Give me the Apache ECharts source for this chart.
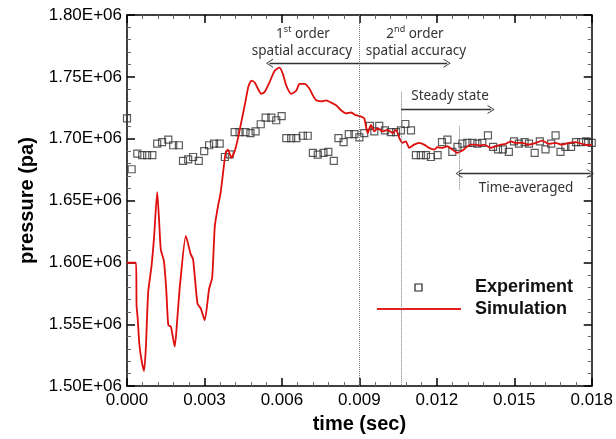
<!DOCTYPE html>
<html>
<head>
<meta charset="utf-8">
<script src="https://cdn.jsdelivr.net/npm/echarts@6/dist/echarts.min.js"></script>
<style>
html,body{margin:0;padding:0;background:#fff;}
#c{width:616px;height:439px;}
</style>
</head>
<body>
<div id="c"></div>
<script>
// ---- data (time in s, pressure in Pa) ----
const expTime = [0.00000,0.00018,0.00040,0.00059,0.00078,0.00098,0.00117,0.00136,0.00160,0.00179,0.00201,0.00217,0.00237,0.00256,0.00278,0.00299,0.00318,0.00337,0.00359,0.00379,0.00398,0.00417,0.00436,0.00459,0.00478,0.00498,0.00518,0.00537,0.00559,0.00578,0.00599,0.00617,0.00636,0.00656,0.00681,0.00700,0.00720,0.00739,0.00761,0.00780,0.00801,0.00819,0.00839,0.00859,0.00881,0.00900,0.00919,0.00941,0.00958,0.00977,0.00999,0.01022,0.01042,0.01061,0.01078,0.01100,0.01119,0.01138,0.01158,0.01177,0.01203,0.01220,0.01241,0.01260,0.01280,0.01299,0.01318,0.01338,0.01357,0.01376,0.01398,0.01418,0.01437,0.01456,0.01479,0.01499,0.01518,0.01540,0.01557,0.01579,0.01599,0.01621,0.01643,0.01660,0.01679,0.01698,0.01720,0.01739,0.01759,0.01778,0.01800];
const expPressure = [1.7164,1.6753,1.6880,1.6868,1.6868,1.6868,1.6960,1.6973,1.6992,1.6947,1.6947,1.6820,1.6833,1.6852,1.6820,1.6900,1.6947,1.6960,1.6960,1.6852,1.6873,1.7053,1.7053,1.7053,1.7045,1.7059,1.7117,1.7170,1.7170,1.7149,1.7183,1.7005,1.7005,1.7005,1.7024,1.7024,1.6886,1.6872,1.6886,1.6894,1.6820,1.7005,1.6973,1.7037,1.7037,1.7011,1.7045,1.7103,1.7059,1.7103,1.7067,1.7053,1.7053,1.7067,1.7119,1.7067,1.6868,1.6868,1.6868,1.6852,1.6868,1.6973,1.6992,1.6894,1.6934,1.6960,1.6966,1.6966,1.6960,1.6966,1.7027,1.6934,1.6913,1.6913,1.6894,1.6979,1.6960,1.6973,1.6960,1.6886,1.6979,1.6913,1.6960,1.7027,1.6894,1.6934,1.6934,1.6973,1.6973,1.6979,1.6966].map(v => v * 1e6);

const simTime = [0,0.00035,0.00037,0.00041,0.00048,0.00057,0.00066,0.00073,0.00082,0.00095,0.00105,0.00117,0.00124,0.00131,0.00143,0.00152,0.00160,0.00170,0.00185,0.00195,0.00205,0.00228,0.00246,0.00256,0.00273,0.00286,0.00301,0.00318,0.00330,0.00340,0.00353,0.00362,0.00370,0.00382,0.00391,0.00404,0.00417,0.00430,0.00443,0.00456,0.00470,0.00482,0.00494,0.00508,0.00520,0.00533,0.00552,0.00572,0.00591,0.00604,0.00617,0.00636,0.00656,0.00668,0.00688,0.00707,0.00720,0.00733,0.00752,0.00771,0.00791,0.00810,0.00829,0.00849,0.00868,0.00887,0.00907,0.00919,0.00932,0.00945,0.00958,0.00971,0.00990,0.01009,0.01029,0.01042,0.01055,0.01067,0.01080,0.01093,0.01112,0.01132,0.01151,0.01170,0.01190,0.01202,0.01222,0.01241,0.01260,0.01280,0.01299,0.01312,0.01331,0.01351,0.01366,0.01383,0.01409,0.01428,0.01447,0.01467,0.01486,0.01505,0.01531,0.01557,0.01583,0.01608,0.01634,0.01660,0.01685,0.01711,0.01737,0.01763,0.01788,0.01800];
const simPressure = [1.5997,1.5997,1.5650,1.5560,1.5334,1.5201,1.5122,1.5308,1.5758,1.5971,1.6210,1.6568,1.6350,1.6104,1.6010,1.5780,1.5493,1.5480,1.5320,1.5550,1.5812,1.6215,1.6071,1.6024,1.5666,1.5626,1.5533,1.5785,1.5878,1.6289,1.6462,1.6554,1.6687,1.6886,1.6912,1.6846,1.6899,1.7005,1.7138,1.7270,1.7420,1.7469,1.7456,1.7400,1.7363,1.7377,1.7456,1.7549,1.7575,1.7522,1.7429,1.7363,1.7390,1.7443,1.7443,1.7403,1.7350,1.7310,1.7302,1.7310,1.7292,1.7270,1.7230,1.7204,1.7212,1.7190,1.7178,1.7164,1.7045,1.7111,1.7059,1.7085,1.7059,1.7072,1.7045,1.7072,1.7005,1.6966,1.6979,1.6926,1.6952,1.6966,1.6952,1.6926,1.6912,1.6931,1.6926,1.6939,1.6912,1.6886,1.6904,1.6926,1.6952,1.6952,1.6945,1.6952,1.6926,1.6939,1.6952,1.6958,1.6979,1.6966,1.6966,1.6952,1.6966,1.6984,1.6958,1.6966,1.6952,1.6966,1.6973,1.6958,1.6947,1.6952].map(v => v * 1e6);

const xTicks = {min: 0, max: 0.018, interval: 0.003};
const yTicks = {min: 1.5e6, max: 1.8e6, interval: 0.05e6};

// annotation positions (data coordinates)
const boundaryTimes = {order: 0.009, steady: 0.01062, avg: 0.01286};

const expData = expTime.map((t, i) => [t, expPressure[i]]);
const simData = simTime.map((t, i) => [t, simPressure[i]]);

const FONT = 'Liberation Sans, Arial, sans-serif';
const ANNO = 'Noto Sans, Open Sans, sans-serif';
const chev = 'path://M0,10 L5,0 L10,10 L9,10 L5,2 L1,10 Z';

function axisCommon(showLabel) {
  return {
    axisLine: {show: true, onZero: false, lineStyle: {color: '#000', width: 1.5}},
    axisTick: {show: true, inside: true, length: 8, lineStyle: {color: '#000', width: 1.5}},
    minorTick: {show: true, splitNumber: 5, length: 4, lineStyle: {color: '#666', width: 1}},
    splitLine: {show: false},
    minorSplitLine: {show: false},
    axisLabel: {show: showLabel, color: '#000', fontSize: 17, fontFamily: FONT}
  };
}

const chart = echarts.init(document.getElementById('c'), null, {renderer: 'canvas'});
const dotted = {color: '#777', type: 'dotted', width: 1};
const arrowStyle = {color: '#333', width: 1.3, type: 'solid'};
const supRich = {
  n: {fontSize: 13.5, fontFamily: ANNO, fill: '#333', lineHeight: 18},
  s: {fontSize: 9, fontFamily: ANNO, fill: '#333', lineHeight: 18, verticalAlign: 'top'}
};

chart.setOption({
  animation: false,
  backgroundColor: '#fff',
  grid: {left: 127, right: 23, top: 15, bottom: 47, containLabel: false},
  xAxis: [
    Object.assign(axisCommon(true), {
      type: 'value', position: 'bottom', min: xTicks.min, max: xTicks.max, interval: xTicks.interval,
      name: 'time (sec)', nameLocation: 'middle', nameGap: 26,
      nameTextStyle: {fontSize: 20, fontWeight: 'bold', color: '#000', fontFamily: FONT},
      axisLabel: {show: true, color: '#000', fontSize: 17, fontFamily: FONT, margin: 6,
        formatter: v => v.toFixed(3)}
    }),
    Object.assign(axisCommon(false), {
      type: 'value', position: 'top', min: xTicks.min, max: xTicks.max, interval: xTicks.interval
    })
  ],
  yAxis: [
    Object.assign(axisCommon(true), {
      type: 'value', position: 'left', min: yTicks.min, max: yTicks.max, interval: yTicks.interval,
      name: 'pressure (pa)', nameLocation: 'middle', nameGap: 90, nameRotate: 90,
      nameTextStyle: {fontSize: 20, fontWeight: 'bold', color: '#000', fontFamily: FONT},
      axisLabel: {show: true, color: '#000', fontSize: 17, fontFamily: FONT, margin: 5,
        formatter: v => (v / 1e6).toFixed(2) + 'E+06'}
    }),
    Object.assign(axisCommon(false), {
      type: 'value', position: 'right', min: yTicks.min, max: yTicks.max, interval: yTicks.interval
    })
  ],
  series: [
    {
      name: 'Experiment', type: 'scatter', data: expData, xAxisIndex: 0, yAxisIndex: 0,
      symbol: 'rect', symbolSize: 7, z: 3,
      itemStyle: {color: 'rgba(255,255,255,0)', borderColor: '#333', borderWidth: 1.2},
      markLine: {
        silent: true, animation: false, symbol: ['none', 'none'],
        label: {show: false},
        data: [
          [{coord: [boundaryTimes.order, 1.8e6], lineStyle: dotted}, {coord: [boundaryTimes.order, 1.5e6]}],
          [{coord: [boundaryTimes.steady, 1.738e6], lineStyle: dotted}, {coord: [boundaryTimes.steady, 1.5e6]}],
          [{coord: [boundaryTimes.avg, 1.710e6], lineStyle: dotted}, {coord: [boundaryTimes.avg, 1.659e6]}],
          [{coord: [boundaryTimes.order, 1.761e6], lineStyle: arrowStyle, symbol: 'none'},
           {coord: [0.00552, 1.761e6], symbol: chev, symbolSize: [9, 7]}],
          [{coord: [boundaryTimes.order, 1.761e6], lineStyle: arrowStyle, symbol: 'none'},
           {coord: [0.0124, 1.761e6], symbol: chev, symbolSize: [9, 7]}],
          [{coord: [boundaryTimes.steady, 1.7236e6], lineStyle: arrowStyle, symbol: 'none'},
           {coord: [0.0141, 1.7236e6], symbol: chev, symbolSize: [9, 7]}],
          [{coord: [boundaryTimes.avg, 1.6719e6], lineStyle: arrowStyle, symbol: chev, symbolSize: [9, 7]},
           {coord: [0.01795, 1.6719e6], symbol: chev, symbolSize: [9, 7]}]
        ]
      }
    },
    {
      name: 'Simulation', type: 'line', data: simData, xAxisIndex: 0, yAxisIndex: 0,
      showSymbol: false, smooth: 0.2, z: 4,
      lineStyle: {color: '#e00d0d', width: 1.8}
    }
  ],
  graphic: [
    {type: 'text', x: 303, y: 34, style: {
      text: '{n|1}{s|st}{n| order}', align: 'center', verticalAlign: 'middle', fill: '#333', rich: supRich}},
    {type: 'text', x: 302, y: 51, style: {text: 'spatial accuracy', align: 'center', verticalAlign: 'middle',
      fontSize: 13.5, fontFamily: ANNO, fill: '#333'}},
    {type: 'text', x: 415, y: 34, style: {
      text: '{n|2}{s|nd}{n| order}', align: 'center', verticalAlign: 'middle', fill: '#333', rich: supRich}},
    {type: 'text', x: 416, y: 51, style: {text: 'spatial accuracy', align: 'center', verticalAlign: 'middle',
      fontSize: 13.5, fontFamily: ANNO, fill: '#333'}},
    {type: 'text', x: 450, y: 96, style: {text: 'Steady state', align: 'center', verticalAlign: 'middle',
      fontSize: 13.5, fontFamily: ANNO, fill: '#333'}},
    {type: 'text', x: 526, y: 188, style: {text: 'Time-averaged', align: 'center', verticalAlign: 'middle',
      fontSize: 13.5, fontFamily: ANNO, fill: '#333'}},
    // legend
    {type: 'rect', shape: {x: 415, y: 284, width: 7, height: 7}, style: {fill: '#fff', stroke: '#222', lineWidth: 1.2}},
    {type: 'line', shape: {x1: 377, y1: 309, x2: 461, y2: 309}, style: {stroke: '#e02020', lineWidth: 2}},
    {type: 'text', x: 475, y: 287, style: {text: 'Experiment', verticalAlign: 'middle', fontSize: 18,
      fontWeight: 'bold', fontFamily: FONT, fill: '#111'}},
    {type: 'text', x: 475, y: 309, style: {text: 'Simulation', verticalAlign: 'middle', fontSize: 18,
      fontWeight: 'bold', fontFamily: FONT, fill: '#111'}}
  ]
});
</script>
</body>
</html>
